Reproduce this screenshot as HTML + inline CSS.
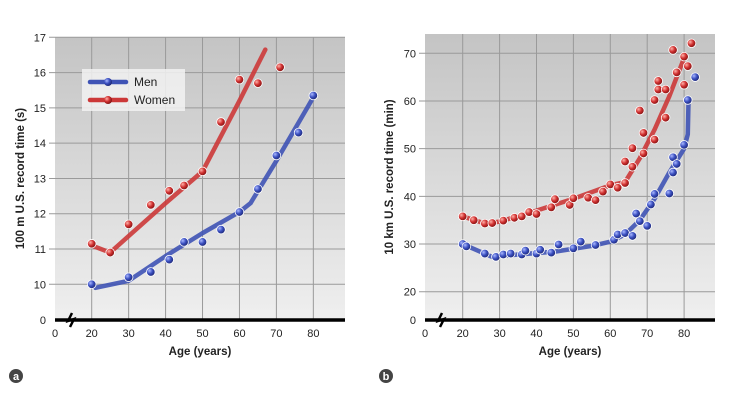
<!DOCTYPE html>
<html><head><meta charset="utf-8"><style>
html,body{margin:0;padding:0;background:#fff;}
svg{display:block;font-family:"Liberation Sans",Arial,sans-serif;}
</style></head><body>
<svg id="c" width="732" height="407" viewBox="0 0 732 407">
<defs>
<linearGradient id="bg" x1="0" y1="0" x2="0" y2="1"><stop offset="0" stop-color="#c4c4c4"/><stop offset="1" stop-color="#efefef"/></linearGradient>
<radialGradient id="gb" cx="0.35" cy="0.35" r="0.7"><stop offset="0" stop-color="#aab8ff"/><stop offset="0.5" stop-color="#3a4fc0"/><stop offset="1" stop-color="#1c2570"/></radialGradient>
<radialGradient id="gr" cx="0.35" cy="0.35" r="0.7"><stop offset="0" stop-color="#ffb0a8"/><stop offset="0.5" stop-color="#d03030"/><stop offset="1" stop-color="#7a1010"/></radialGradient>
</defs>
</svg>
<script>
// Chart a: 100 m
const aAges=[20,30,36,41,45,50,55,60,65,70,76,80];
const aMen=[10.0,10.2,10.35,10.7,11.2,11.2,11.55,12.05,12.7,13.65,14.3,15.35];
const aMenFitX=[21,30,40,50,60,63,70,80];
const aMenFitY=[9.9,10.1,10.8,11.45,12.05,12.3,13.5,15.3];
const aWAges=[20,25,30,36,41,45,50,55,60,65,71];
const aWomen=[11.15,10.9,11.7,12.25,12.65,12.8,13.2,14.6,15.8,15.7,16.15];
const aWFitX=[20,25,40,50,51,60,67];
const aWFitY=[11.1,10.9,12.3,13.2,13.4,15.2,16.65];
const aYTicks=[10,11,12,13,14,15,16,17];
const xTicks=[20,30,40,50,60,70,80];
// Chart b: 10 km
const bMAges=[20,21,26,29,31,33,36,37,40,41,44,46,50,52,56,61,62,64,66,67,68,70,71,72,76,77,77,78,80,81,83];
const bMen=[30,29.5,28,27.3,27.8,28,27.8,28.6,28,28.8,28.2,29.9,29.1,30.5,29.8,30.9,32,32.3,31.7,36.4,34.8,33.8,38.3,40.5,40.6,45,48.2,46.8,50.8,60.2,65];
const bMFitX=[20,28,35,45,55,60,64,68,72,76,80,81,81.2];
const bMFitY=[30,27.3,27.8,28.4,29.6,30.5,32,35,39.5,45,50,53,60];
const bWAges=[20,23,26,28,31,34,36,38,40,44,45,49,50,54,56,58,60,62,64,64,66,66,68,69,69,72,72,73,73,75,75,77,78,80,80,81,82];
const bWomen=[35.8,35,34.3,34.4,34.9,35.5,35.8,36.7,36.3,37.7,39.4,38.2,39.6,39.7,39.2,41,42.5,41.8,42.8,47.3,50.1,46.2,58,49,53.3,51.9,60.2,62.4,64.2,62.4,56.5,70.7,66,63.4,69.3,67.3,72.1];
const bWFitX=[20,26,30,40,50,60,64,68,72,76,80];
const bWFitY=[35.8,34.3,34.7,37,39.5,42.3,43,48,54,61,69];
const bYTicks=[20,30,40,50,60,70];

const svg=document.getElementById('c');
const NS='http://www.w3.org/2000/svg';
function mk(t,a,p){const e=document.createElementNS(NS,t);for(const k in a)e.setAttribute(k,a[k]);(p||svg).appendChild(e);return e;}

function chart(o){
  const g=mk('g',{});
  
  
  const X=a=>o.x20+(a-20)*o.px10/10;
  const Y=v=>o.yA+(v-o.vA)*(o.yB-o.yA)/(o.vB-o.vA);
  mk('rect',{x:o.left,y:o.top,width:o.right-o.left,height:o.axisY-o.top,fill:'url(#bg)'},g);
  for(const t of xTicks){const l=mk('line',{x1:X(t),x2:X(t),y1:o.top,y2:o.axisY,stroke:'#9a9a9a','stroke-width':1},g);
    }
  for(const t of o.yTicks){const l=mk('line',{x1:o.left-6,x2:o.right,y1:Y(t),y2:Y(t),stroke:'#9a9a9a','stroke-width':1},g);
    
    const tx=mk('text',{x:o.left-9,y:Y(t)+4,'text-anchor':'end','font-size':11,fill:'#222'},g);tx.textContent=t;
    }
  const z=mk('text',{x:o.left-9,y:o.axisY+4,'text-anchor':'end','font-size':11,fill:'#222'},g);z.textContent='0';
  
  const ax=mk('line',{x1:o.left,x2:o.right,y1:o.axisY,y2:o.axisY,stroke:'#000','stroke-width':3.5},g);
  
  const br=mk('path',{d:`M${o.left+17} ${o.axisY-7} L${o.left+13} ${o.axisY+1} L${o.left+19} ${o.axisY-1} L${o.left+15} ${o.axisY+7}`,fill:'none',stroke:'#000','stroke-width':2.5},g);
  
  const x0=mk('text',{x:o.left,y:o.axisY+17,'text-anchor':'middle','font-size':11,fill:'#222'},g);x0.textContent='0';
  
  for(const t of xTicks){const tx=mk('text',{x:X(t),y:o.axisY+17,'text-anchor':'middle','font-size':11,fill:'#222'},g);tx.textContent=t;
    }
  const xt=mk('text',{x:(o.left+o.right)/2,y:o.axisY+35,'text-anchor':'middle','font-size':11.5,'font-weight':'bold',fill:'#222'},g);xt.textContent='Age (years)';
  
  const cy=(o.top+o.axisY)/2;
  const yt=mk('text',{x:o.ytX,y:cy,transform:`rotate(-90 ${o.ytX} ${cy})`,'text-anchor':'middle','font-size':11.5,'font-weight':'bold',fill:'#222'},g);yt.textContent=o.ytitle;
  
  for(const s of o.series){
    const pts=s.fx.map((a,i)=>X(a)+','+Y(s.fy[i])).join(' ');
    const pl=mk('polyline',{points:pts,fill:'none',stroke:s.line,'stroke-width':4.5,'stroke-linejoin':'round','stroke-linecap':'round',opacity:0.9},g);
    
    s.ax.forEach((a,i)=>{const c=mk('circle',{cx:X(a),cy:Y(s.v[i]),r:4.3,fill:s.fill,stroke:'#fff','stroke-width':0.8},g);
      });
  }
  const lc=mk('circle',{cx:o.lbl[0],cy:o.lbl[1],r:7,fill:'#444'},g);
  
  const lt=mk('text',{x:o.lbl[0],y:o.lbl[1]+4,'text-anchor':'middle','font-size':11,'font-weight':'bold',fill:'#fff'},g);lt.textContent=o.letter;
  
  return g;
}
const blue='#3f53b5',red='#cc3838';
const ga=chart({name:'chart-100m',left:55,right:345,top:37,axisY:320,x20:91.7,px10:36.94,yA:284.3,vA:10,yB:37.3,vB:17,
  yTicks:aYTicks,ytitle:'100 m U.S. record time (s)',ytX:24,lbl:[16,376],letter:'a',
  series:[{key:'men',line:blue,fill:'url(#gb)',fx:aMenFitX,fy:aMenFitY,ax:aAges,v:aMen},
          {key:'women',line:red,fill:'url(#gr)',fx:aWFitX,fy:aWFitY,ax:aWAges,v:aWomen}]});
// legend
const lg=mk('g',{},ga);


mk('rect',{x:82,y:69,width:103,height:42,fill:'#f2f2f2',opacity:0.85},lg);
[['Men',blue,'url(#gb)',82],['Women',red,'url(#gr)',100]].forEach(([n,c,f,y])=>{
  const e=mk('g',{},lg);
  
  
  mk('line',{x1:90,x2:126,y1:y,y2:y,stroke:c,'stroke-width':4.5,'stroke-linecap':'round'},e);
  mk('circle',{cx:108,cy:y,r:4,fill:f},e);
  const t=mk('text',{x:134,y:y+4,'font-size':12,fill:'#222'},e);t.textContent=n;
});
chart({name:'chart-10km',left:425,right:715,top:34,axisY:320,x20:462.7,px10:36.9,yA:291.7,vA:20,yB:53.3,vB:70,
  yTicks:bYTicks,ytitle:'10 km U.S. record time (min)',ytX:393,lbl:[386,376],letter:'b',
  series:[{key:'men',line:blue,fill:'url(#gb)',fx:bMFitX,fy:bMFitY,ax:bMAges,v:bMen},
          {key:'women',line:red,fill:'url(#gr)',fx:bWFitX,fy:bWFitY,ax:bWAges,v:bWomen}]});
</script>
</body></html>
